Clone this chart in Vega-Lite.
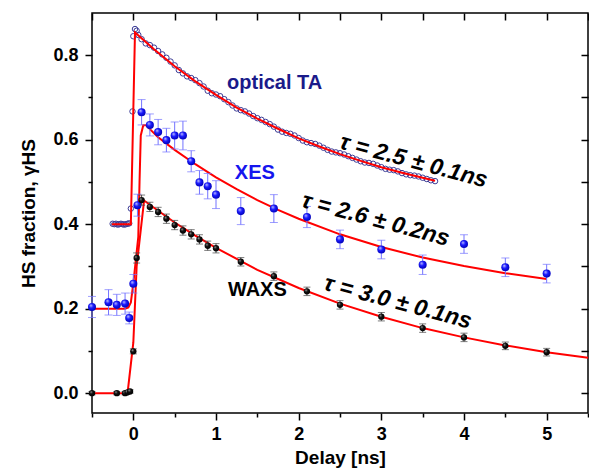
{
  "$schema": "https://vega.github.io/schema/vega-lite/v6.json",
  "width": 496,
  "height": 400,
  "autosize": "none",
  "padding": {"left": 92, "top": 13, "right": 1, "bottom": 59},
  "background": "white",
  "view": {"stroke": "#000000", "strokeWidth": 1.5},
  "config": {
    "view": {"stroke": "#000000", "strokeWidth": 1.5},
    "axis": {
      "labelFont": "Liberation Sans", "labelFontWeight": "bold", "labelFontSize": 18, "labelColor": "black",
      "titleFont": "Liberation Sans", "titleFontWeight": "bold", "titleFontSize": 19, "titleColor": "black",
      "tickColor": "black", "tickWidth": 1.5, "domain": false, "grid": false
    }
  },
  "datasets": {
    "ta": [
      {"t": -0.25, "y": 0.401}, {"t": -0.23, "y": 0.400}, {"t": -0.21, "y": 0.401}, {"t": -0.19, "y": 0.399},
      {"t": -0.17, "y": 0.400}, {"t": -0.15, "y": 0.401}, {"t": -0.13, "y": 0.400}, {"t": -0.11, "y": 0.399},
      {"t": -0.09, "y": 0.400}, {"t": -0.07, "y": 0.401}, {"t": -0.05, "y": 0.402}, {"t": -0.03, "y": 0.437},
      {"t": -0.01, "y": 0.667}, {"t": 0.0, "y": 0.845}, {"t": 0.02, "y": 0.862}, {"t": 0.04, "y": 0.858},
      {"t": 0.06, "y": 0.848}, {"t": 0.10, "y": 0.838}, {"t": 0.15, "y": 0.828}, {"t": 0.20, "y": 0.824},
      {"t": 0.25, "y": 0.818}, {"t": 0.30, "y": 0.810}, {"t": 0.35, "y": 0.802}, {"t": 0.40, "y": 0.794},
      {"t": 0.45, "y": 0.785}, {"t": 0.50, "y": 0.776}, {"t": 0.55, "y": 0.765}, {"t": 0.60, "y": 0.757},
      {"t": 0.65, "y": 0.750}, {"t": 0.70, "y": 0.746}, {"t": 0.75, "y": 0.741}, {"t": 0.80, "y": 0.734},
      {"t": 0.85, "y": 0.726}, {"t": 0.90, "y": 0.716}, {"t": 0.95, "y": 0.710}, {"t": 1.00, "y": 0.707},
      {"t": 1.05, "y": 0.703}, {"t": 1.10, "y": 0.696}, {"t": 1.15, "y": 0.689}, {"t": 1.20, "y": 0.681},
      {"t": 1.25, "y": 0.674}, {"t": 1.30, "y": 0.670}, {"t": 1.35, "y": 0.667}, {"t": 1.40, "y": 0.662},
      {"t": 1.45, "y": 0.656}, {"t": 1.50, "y": 0.651}, {"t": 1.55, "y": 0.647}, {"t": 1.60, "y": 0.642},
      {"t": 1.65, "y": 0.637}, {"t": 1.70, "y": 0.631}, {"t": 1.75, "y": 0.624}, {"t": 1.80, "y": 0.619},
      {"t": 1.85, "y": 0.616}, {"t": 1.90, "y": 0.614}, {"t": 1.95, "y": 0.610}, {"t": 2.00, "y": 0.604},
      {"t": 2.05, "y": 0.598}, {"t": 2.10, "y": 0.594}, {"t": 2.15, "y": 0.592}, {"t": 2.20, "y": 0.590},
      {"t": 2.25, "y": 0.586}, {"t": 2.30, "y": 0.581}, {"t": 2.35, "y": 0.576}, {"t": 2.40, "y": 0.572},
      {"t": 2.45, "y": 0.570}, {"t": 2.50, "y": 0.568}, {"t": 2.55, "y": 0.565}, {"t": 2.60, "y": 0.561},
      {"t": 2.65, "y": 0.557}, {"t": 2.70, "y": 0.553}, {"t": 2.75, "y": 0.549}, {"t": 2.80, "y": 0.546},
      {"t": 2.85, "y": 0.545}, {"t": 2.90, "y": 0.543}, {"t": 2.95, "y": 0.539}, {"t": 3.00, "y": 0.535},
      {"t": 3.05, "y": 0.531}, {"t": 3.10, "y": 0.529}, {"t": 3.15, "y": 0.528}, {"t": 3.20, "y": 0.525},
      {"t": 3.25, "y": 0.521}, {"t": 3.30, "y": 0.518}, {"t": 3.35, "y": 0.516}, {"t": 3.40, "y": 0.515},
      {"t": 3.45, "y": 0.513}, {"t": 3.50, "y": 0.510}, {"t": 3.55, "y": 0.507}, {"t": 3.60, "y": 0.504},
      {"t": 3.65, "y": 0.502}
    ],
    "fit": [
      {"s": "TA", "t": -0.26, "y": 0.400}, {"s": "TA", "t": -0.03, "y": 0.400}, {"s": "TA", "t": 0.02, "y": 0.854},
      {"s": "TA", "t": 0.25, "y": 0.814}, {"s": "TA", "t": 0.5, "y": 0.774}, {"s": "TA", "t": 0.75, "y": 0.738},
      {"s": "TA", "t": 1.0, "y": 0.706}, {"s": "TA", "t": 1.25, "y": 0.676}, {"s": "TA", "t": 1.5, "y": 0.650},
      {"s": "TA", "t": 1.75, "y": 0.626}, {"s": "TA", "t": 2.0, "y": 0.603}, {"s": "TA", "t": 2.25, "y": 0.584},
      {"s": "TA", "t": 2.5, "y": 0.566}, {"s": "TA", "t": 2.75, "y": 0.550}, {"s": "TA", "t": 3.0, "y": 0.535},
      {"s": "TA", "t": 3.25, "y": 0.522}, {"s": "TA", "t": 3.5, "y": 0.510}, {"s": "TA", "t": 3.65, "y": 0.503},
      {"s": "XES", "t": -0.5, "y": 0.200}, {"s": "XES", "t": -0.1, "y": 0.200}, {"s": "XES", "t": -0.06, "y": 0.203},
      {"s": "XES", "t": -0.03, "y": 0.215}, {"s": "XES", "t": 0.0, "y": 0.260}, {"s": "XES", "t": 0.06, "y": 0.370},
      {"s": "XES", "t": 0.075, "y": 0.500}, {"s": "XES", "t": 0.09, "y": 0.610}, {"s": "XES", "t": 0.12, "y": 0.634},
      {"s": "XES", "t": 0.16, "y": 0.634}, {"s": "XES", "t": 0.2, "y": 0.625}, {"s": "XES", "t": 0.3, "y": 0.606},
      {"s": "XES", "t": 0.5, "y": 0.576}, {"s": "XES", "t": 0.75, "y": 0.542}, {"s": "XES", "t": 1.0, "y": 0.511},
      {"s": "XES", "t": 1.25, "y": 0.483}, {"s": "XES", "t": 1.5, "y": 0.457}, {"s": "XES", "t": 1.75, "y": 0.434},
      {"s": "XES", "t": 2.0, "y": 0.413}, {"s": "XES", "t": 2.5, "y": 0.376}, {"s": "XES", "t": 3.0, "y": 0.346},
      {"s": "XES", "t": 3.5, "y": 0.321}, {"s": "XES", "t": 4.0, "y": 0.301}, {"s": "XES", "t": 4.5, "y": 0.284},
      {"s": "XES", "t": 5.0, "y": 0.270},
      {"s": "WAXS", "t": -0.5, "y": 0.0}, {"s": "WAXS", "t": -0.07, "y": 0.0}, {"s": "WAXS", "t": 0.0, "y": 0.12},
      {"s": "WAXS", "t": 0.04, "y": 0.30}, {"s": "WAXS", "t": 0.13, "y": 0.456}, {"s": "WAXS", "t": 0.25, "y": 0.439},
      {"s": "WAXS", "t": 0.5, "y": 0.404}, {"s": "WAXS", "t": 0.75, "y": 0.373}, {"s": "WAXS", "t": 1.0, "y": 0.344},
      {"s": "WAXS", "t": 1.5, "y": 0.292}, {"s": "WAXS", "t": 2.0, "y": 0.249}, {"s": "WAXS", "t": 2.5, "y": 0.212},
      {"s": "WAXS", "t": 3.0, "y": 0.181}, {"s": "WAXS", "t": 3.5, "y": 0.154}, {"s": "WAXS", "t": 4.0, "y": 0.132},
      {"s": "WAXS", "t": 4.5, "y": 0.113}, {"s": "WAXS", "t": 5.0, "y": 0.097}, {"s": "WAXS", "t": 5.5, "y": 0.084}
    ],
    "xes": [
      {"t": -0.5, "y": 0.204, "lo": 0.179, "hi": 0.229}, {"t": -0.3, "y": 0.215, "lo": 0.185, "hi": 0.245},
      {"t": -0.2, "y": 0.209, "lo": 0.184, "hi": 0.234}, {"t": -0.1, "y": 0.212, "lo": 0.187, "hi": 0.237},
      {"t": -0.05, "y": 0.178, "lo": 0.164, "hi": 0.192}, {"t": 0.0, "y": 0.259, "lo": 0.237, "hi": 0.281},
      {"t": 0.05, "y": 0.445, "lo": 0.419, "hi": 0.471}, {"t": 0.1, "y": 0.665, "lo": 0.635, "hi": 0.695},
      {"t": 0.2, "y": 0.635, "lo": 0.609, "hi": 0.661}, {"t": 0.3, "y": 0.618, "lo": 0.588, "hi": 0.648},
      {"t": 0.4, "y": 0.599, "lo": 0.571, "hi": 0.627}, {"t": 0.5, "y": 0.610, "lo": 0.578, "hi": 0.642},
      {"t": 0.6, "y": 0.610, "lo": 0.576, "hi": 0.644}, {"t": 0.7, "y": 0.549, "lo": 0.524, "hi": 0.574},
      {"t": 0.8, "y": 0.499, "lo": 0.471, "hi": 0.527}, {"t": 0.9, "y": 0.490, "lo": 0.460, "hi": 0.520},
      {"t": 1.0, "y": 0.470, "lo": 0.437, "hi": 0.503}, {"t": 1.3, "y": 0.431, "lo": 0.399, "hi": 0.463},
      {"t": 1.7, "y": 0.437, "lo": 0.404, "hi": 0.470}, {"t": 2.1, "y": 0.417, "lo": 0.392, "hi": 0.442},
      {"t": 2.5, "y": 0.364, "lo": 0.342, "hi": 0.386}, {"t": 3.0, "y": 0.340, "lo": 0.318, "hi": 0.362},
      {"t": 3.5, "y": 0.304, "lo": 0.281, "hi": 0.327}, {"t": 4.0, "y": 0.353, "lo": 0.331, "hi": 0.375},
      {"t": 4.5, "y": 0.298, "lo": 0.276, "hi": 0.320}, {"t": 5.0, "y": 0.283, "lo": 0.261, "hi": 0.305}
    ],
    "waxs": [
      {"t": -0.5, "y": 0.0, "lo": -0.004, "hi": 0.004}, {"t": -0.2, "y": 0.0, "lo": -0.004, "hi": 0.004},
      {"t": -0.1, "y": 0.0, "lo": -0.004, "hi": 0.004}, {"t": -0.07, "y": 0.002, "lo": -0.002, "hi": 0.006},
      {"t": -0.04, "y": 0.004, "lo": 0.0, "hi": 0.008}, {"t": 0.0, "y": 0.099, "lo": 0.093, "hi": 0.105},
      {"t": 0.04, "y": 0.32, "lo": 0.308, "hi": 0.332}, {"t": 0.1, "y": 0.457, "lo": 0.445, "hi": 0.469},
      {"t": 0.2, "y": 0.441, "lo": 0.430, "hi": 0.452}, {"t": 0.3, "y": 0.429, "lo": 0.418, "hi": 0.440},
      {"t": 0.4, "y": 0.413, "lo": 0.402, "hi": 0.424}, {"t": 0.5, "y": 0.398, "lo": 0.387, "hi": 0.409},
      {"t": 0.6, "y": 0.385, "lo": 0.374, "hi": 0.396}, {"t": 0.7, "y": 0.376, "lo": 0.365, "hi": 0.387},
      {"t": 0.8, "y": 0.364, "lo": 0.353, "hi": 0.375}, {"t": 0.9, "y": 0.349, "lo": 0.338, "hi": 0.360},
      {"t": 1.0, "y": 0.343, "lo": 0.332, "hi": 0.354}, {"t": 1.3, "y": 0.311, "lo": 0.301, "hi": 0.321},
      {"t": 1.7, "y": 0.277, "lo": 0.267, "hi": 0.287}, {"t": 2.1, "y": 0.241, "lo": 0.231, "hi": 0.251},
      {"t": 2.5, "y": 0.209, "lo": 0.199, "hi": 0.219}, {"t": 3.0, "y": 0.181, "lo": 0.171, "hi": 0.191},
      {"t": 3.5, "y": 0.154, "lo": 0.144, "hi": 0.164}, {"t": 4.0, "y": 0.132, "lo": 0.122, "hi": 0.142},
      {"t": 4.5, "y": 0.112, "lo": 0.103, "hi": 0.121}, {"t": 5.0, "y": 0.097, "lo": 0.088, "hi": 0.106}
    ],
    "labels": [
      {"name": "optical TA", "t": 1.71, "y": 0.734},
      {"name": "XES", "t": 1.47, "y": 0.522},
      {"name": "WAXS", "t": 1.50, "y": 0.245}
    ],
    "taus": [
      {"txt": "τ = 2.5 ± 0.1ns", "t": 3.39, "y": 0.549},
      {"txt": "τ = 2.6 ± 0.2ns", "t": 2.93, "y": 0.411},
      {"txt": "τ = 3.0 ± 0.1ns", "t": 3.20, "y": 0.215}
    ]
  },
  "resolve": {"axis": {"x": "independent", "y": "independent"}},
  "layer": [
    {
      "data": {"name": "ta"},
      "mark": {"type": "point", "shape": "circle", "filled": false, "stroke": "#3c3c96", "strokeWidth": 1, "size": 30, "opacity": 1},
      "encoding": {
        "x": {"field": "t", "type": "quantitative", "scale": {"domain": [-0.5, 5.5], "nice": false, "zero": false},
              "axis": {"orient": "bottom", "values": [0, 1, 2, 3, 4, 5], "format": "d", "tickSize": 7, "labelPadding": 5, "title": "Delay [ns]", "titlePadding": 5}},
        "y": {"field": "y", "type": "quantitative", "scale": {"domain": [-0.047, 0.9], "nice": false, "zero": false},
              "axis": {"orient": "left", "values": [0, 0.2, 0.4, 0.6, 0.8], "format": ".1f", "tickSize": 7, "labelPadding": 7, "title": "HS fraction, γHS", "titlePadding": 14}}
      }
    },
    {
      "data": {"name": "fit"},
      "mark": {"type": "line", "color": "#ff0000", "strokeWidth": 2},
      "encoding": {
        "x": {"field": "t", "type": "quantitative", "scale": {"domain": [-0.5, 5.5], "nice": false, "zero": false},
              "axis": {"orient": "bottom", "values": [-0.5, 0.5, 1.5, 2.5, 3.5, 4.5, 5.5], "tickSize": 4, "labels": false, "title": null}},
        "y": {"field": "y", "type": "quantitative", "scale": {"domain": [-0.047, 0.9], "nice": false, "zero": false},
              "axis": {"orient": "left", "values": [0.1, 0.3, 0.5, 0.7], "tickSize": 4, "labels": false, "title": null}},
        "detail": {"field": "s"},
        "order": {"field": "t"}
      }
    },
    {
      "data": {"name": "xes"},
      "mark": {"type": "errorbar", "ticks": {"size": 8}, "color": "#7373ff", "thickness": 1},
      "encoding": {
        "x": {"field": "t", "type": "quantitative", "scale": {"domain": [-0.5, 5.5], "nice": false, "zero": false}, "axis": null},
        "y": {"field": "lo", "type": "quantitative", "scale": {"domain": [-0.047, 0.9], "nice": false, "zero": false}, "axis": null},
        "y2": {"field": "hi"}
      }
    },
    {
      "data": {"name": "xes"},
      "mark": {"type": "point", "shape": "circle", "filled": true, "size": 65, "opacity": 1,
               "fill": {"gradient": "radial", "x1": 0.35, "y1": 0.3, "r1": 0, "x2": 0.45, "y2": 0.45, "r2": 0.6,
                        "stops": [{"offset": 0, "color": "#c8c8ff"}, {"offset": 0.45, "color": "#1a1aff"}, {"offset": 1, "color": "#0000b0"}]}},
      "encoding": {
        "x": {"field": "t", "type": "quantitative", "scale": {"domain": [-0.5, 5.5], "nice": false, "zero": false},
              "axis": {"orient": "top", "values": [-0.5, 0, 0.5, 1, 1.5, 2, 2.5, 3, 3.5, 4, 4.5, 5, 5.5], "tickSize": -7, "labels": false, "title": null}},
        "y": {"field": "y", "type": "quantitative", "scale": {"domain": [-0.047, 0.9], "nice": false, "zero": false},
              "axis": {"orient": "right", "values": [0, 0.1, 0.2, 0.3, 0.4, 0.5, 0.6, 0.7, 0.8], "tickSize": -7, "labels": false, "title": null}}
      }
    },
    {
      "data": {"name": "waxs"},
      "mark": {"type": "errorbar", "ticks": {"size": 7}, "color": "#444444", "thickness": 1},
      "encoding": {
        "x": {"field": "t", "type": "quantitative", "scale": {"domain": [-0.5, 5.5], "nice": false, "zero": false}, "axis": null},
        "y": {"field": "lo", "type": "quantitative", "scale": {"domain": [-0.047, 0.9], "nice": false, "zero": false}, "axis": null},
        "y2": {"field": "hi"}
      }
    },
    {
      "data": {"name": "waxs"},
      "mark": {"type": "point", "shape": "circle", "filled": true, "size": 40, "opacity": 1,
               "fill": {"gradient": "radial", "x1": 0.35, "y1": 0.3, "r1": 0, "x2": 0.45, "y2": 0.45, "r2": 0.6,
                        "stops": [{"offset": 0, "color": "#aaaaaa"}, {"offset": 0.4, "color": "#111111"}, {"offset": 1, "color": "#000000"}]}},
      "encoding": {
        "x": {"field": "t", "type": "quantitative", "scale": {"domain": [-0.5, 5.5], "nice": false, "zero": false}, "axis": null},
        "y": {"field": "y", "type": "quantitative", "scale": {"domain": [-0.047, 0.9], "nice": false, "zero": false}, "axis": null}
      }
    },
    {
      "data": {"name": "labels"},
      "mark": {"type": "text", "font": "Liberation Sans", "fontWeight": "bold", "fontSize": 20, "align": "center", "baseline": "middle"},
      "encoding": {
        "x": {"field": "t", "type": "quantitative", "scale": {"domain": [-0.5, 5.5], "nice": false, "zero": false}, "axis": null},
        "y": {"field": "y", "type": "quantitative", "scale": {"domain": [-0.047, 0.9], "nice": false, "zero": false}, "axis": null},
        "text": {"field": "name"},
        "color": {"field": "name", "type": "nominal", "scale": {"domain": ["optical TA", "XES", "WAXS"], "range": ["#1a1a8a", "#1515ee", "#000000"]}, "legend": null}
      }
    },
    {
      "data": {"name": "taus"},
      "mark": {"type": "text", "font": "Liberation Sans", "fontWeight": "bold", "fontStyle": "italic", "fontSize": 23, "align": "center", "baseline": "middle", "angle": 15, "color": "black"},
      "encoding": {
        "x": {"field": "t", "type": "quantitative", "scale": {"domain": [-0.5, 5.5], "nice": false, "zero": false}, "axis": null},
        "y": {"field": "y", "type": "quantitative", "scale": {"domain": [-0.047, 0.9], "nice": false, "zero": false}, "axis": null},
        "text": {"field": "txt"}
      }
    }
  ]
}
